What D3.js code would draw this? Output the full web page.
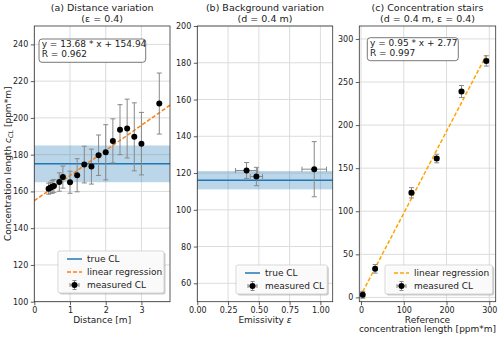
<!DOCTYPE html>
<html>
<head>
<meta charset="utf-8">
<title>CL measurements</title>
<style>
  body { margin: 0; padding: 0; background: #fff; }
  text { font-family: "DejaVu Sans", sans-serif; }
</style>
</head>
<body>
<svg width="500" height="339"></svg>
<script src="https://d3js.org/d3.v7.min.js"></script>
<script>

// (a) distance variation
var distX   = [0.4, 0.45, 0.5, 0.55, 0.7, 0.8, 1.0, 1.2, 1.4, 1.6, 1.8, 2.0, 2.2, 2.4, 2.6, 2.8, 3.0, 3.5]
var distY   = [161.5, 162, 162.5, 163, 165.1, 167.8, 165, 168.8, 174.6, 173.5, 179.7, 181.3, 187.5, 193.6, 194.2, 189.7, 186, 207.8]
var distErr = [3, 3, 3.5, 3.5, 5, 6, 6, 9, 10, 9.5, 11, 15, 12, 13.6, 16, 18.5, 17, 16.6]
var distTrue = 175, distTrueErr = 10
var distFit = [13.68, 154.94]

// (b) background variation
var emisX    = [0.4, 0.48, 0.95]
var emisXErr = [0.09, 0.05, 0.1]
var emisY    = [121.4, 118.1, 122.1]
var emisYErr = [4.3, 5, 15]
var emisTrue = 116.1, emisTrueErr = 5

// (c) concentration stairs
var refX    = [4, 33, 118, 177, 235, 293]
var refXErr = [4, 4, 5, 5, 5, 5]
var measY   = [3, 33.2, 121.4, 161.2, 238.9, 274.5]
var measErr = [4, 5, 6, 5, 7, 6]
var stairFit = [0.95, 2.77]

var blue = "#1f77b4"
var svg = d3.select("svg")

var panels = [
  {
    box: [34.3, 26, 170, 301.7], xdom: [0, 3.8], ydom: [100, 250],
    xticks: [0, 1, 2, 3], yticks: d3.range(100, 241, 20), xfmt: d3.format("d"),
    title: ["(a) Distance variation", "(\u03b5 = 0.4)"],
    xlabel: [["Distance [m]"]],
    x: distX, y: distY, yerr: distErr, xerr: null,
    trueCL: distTrue, trueErr: distTrueErr,
    fit: distFit, fitColor: "#ff7f0e", fitRange: "full",
    fitText: ["y = 13.68 * x + 154.94", "R = 0.962"], fitBox: [39, 39, 106.7, 23.3],
    legend: {x: 58, y: 251, w: 106, items: ["true", "fit", "meas"]}
  },
  {
    box: [197.3, 26, 332.7, 301.7], xdom: [0, 1.1], ydom: [50, 200],
    xticks: d3.range(0, 1.01, 0.25), yticks: d3.range(60, 201, 20), xfmt: d3.format(".2f"),
    title: ["(b) Background variation", "(d = 0.4 m)"],
    xlabel: [["Emissivity ", "\u03b5"]],
    x: emisX, y: emisY, yerr: emisYErr, xerr: emisXErr,
    trueCL: emisTrue, trueErr: emisTrueErr,
    legend: {x: 236, y: 265, w: 91.3, items: ["true", "meas"]}
  },
  {
    box: [359.3, 26, 495.7, 301.7], xdom: [-4, 315], ydom: [-5, 315],
    xticks: [0, 100, 200, 300], yticks: d3.range(0, 301, 50), xfmt: d3.format("d"),
    title: ["(c) Concentration stairs", "(d = 0.4 m, \u03b5 = 0.4)"],
    xlabel: [["Reference"], ["concentration length [ppm*m]"]],
    x: refX, y: measY, yerr: measErr, xerr: refXErr,
    fit: stairFit, fitColor: "#ffa500", fitRange: "data",
    fitText: ["y = 0.95 * x + 2.77", "R = 0.997"], fitBox: [367.3, 37.7, 91, 23],
    legend: {x: 385, y: 265, w: 107.7, items: ["fit", "meas"]}
  }
]

panels.forEach(drawPanel)

// y label of first panel
var yl = svg.append("text")
  .attr("transform", "translate(11," + (26 + 301.7) / 2 + ") rotate(-90)")
  .attr("text-anchor", "middle")
  .style("font-size", "9px").attr("fill", "#222")
yl.append("tspan").text("Concentration length ")
yl.append("tspan").text("c").style("font-style", "italic")
yl.append("tspan").text("CL").style("font-style", "italic").style("font-size", "6.5px").attr("dy", 2)
yl.append("tspan").text(" [ppm*m]").attr("dy", -2)

function drawPanel(p) {
  var x = d3.scaleLinear().domain(p.xdom).range([p.box[0], p.box[2]])
  var y = d3.scaleLinear().domain(p.ydom).range([p.box[3], p.box[1]])
  var g = svg.append("g")
  var cx = (p.box[0] + p.box[2]) / 2

  // grid
  g.selectAll("line.gx").data(p.xticks).enter().append("line")
    .attr("x1", d => x(d)).attr("x2", d => x(d))
    .attr("y1", p.box[1]).attr("y2", p.box[3])
    .attr("stroke", "#dcdcdc").attr("stroke-width", 1)
  g.selectAll("line.gy").data(p.yticks).enter().append("line")
    .attr("y1", d => y(d)).attr("y2", d => y(d))
    .attr("x1", p.box[0]).attr("x2", p.box[2])
    .attr("stroke", "#dcdcdc").attr("stroke-width", 1)

  // true CL band + line
  if (p.trueCL != null) {
    g.append("rect")
      .attr("x", p.box[0]).attr("width", p.box[2] - p.box[0])
      .attr("y", y(p.trueCL + p.trueErr))
      .attr("height", y(p.trueCL - p.trueErr) - y(p.trueCL + p.trueErr))
      .attr("fill", blue).attr("opacity", 0.3)
    g.append("line")
      .attr("x1", p.box[0]).attr("x2", p.box[2])
      .attr("y1", y(p.trueCL)).attr("y2", y(p.trueCL))
      .attr("stroke", blue).attr("stroke-width", 1.5)
  }

  // regression
  if (p.fit) {
    var xr = p.fitRange === "full" ? p.xdom : d3.extent(p.x)
    g.append("line")
      .attr("x1", x(xr[0])).attr("x2", x(xr[1]))
      .attr("y1", y(p.fit[0] * xr[0] + p.fit[1]))
      .attr("y2", y(p.fit[0] * xr[1] + p.fit[1]))
      .attr("stroke", p.fitColor).attr("stroke-width", 1.5)
      .attr("stroke-dasharray", "4,2")
  }

  // error bars
  var pts = p.x.map((v, i) => ({x: v, y: p.y[i], ye: p.yerr[i], xe: p.xerr ? p.xerr[i] : 0}))
  var eb = g.selectAll("g.eb").data(pts).enter().append("g")
    .attr("stroke", "#888").attr("stroke-width", 1)
  eb.append("line")
    .attr("x1", d => x(d.x)).attr("x2", d => x(d.x))
    .attr("y1", d => y(d.y - d.ye)).attr("y2", d => y(d.y + d.ye))
  eb.each(function(d) {
    var s = d3.select(this)
    ;[d.y - d.ye, d.y + d.ye].forEach(v => {
      s.append("line").attr("x1", x(d.x) - 2.5).attr("x2", x(d.x) + 2.5)
        .attr("y1", y(v)).attr("y2", y(v))
    })
    if (d.xe) {
      s.append("line").attr("x1", x(d.x - d.xe)).attr("x2", x(d.x + d.xe))
        .attr("y1", y(d.y)).attr("y2", y(d.y))
      ;[d.x - d.xe, d.x + d.xe].forEach(v => {
        s.append("line").attr("x1", x(v)).attr("x2", x(v))
          .attr("y1", y(d.y) - 2.5).attr("y2", y(d.y) + 2.5)
      })
    }
  })
  g.selectAll("circle.pt").data(pts).enter().append("circle")
    .attr("cx", d => x(d.x)).attr("cy", d => y(d.y)).attr("r", 3)
    .attr("fill", "#000")

  // spines
  g.append("rect")
    .attr("x", p.box[0]).attr("y", p.box[1])
    .attr("width", p.box[2] - p.box[0]).attr("height", p.box[3] - p.box[1])
    .attr("fill", "none").attr("stroke", "#333").attr("stroke-width", 0.8)

  // axes
  var xa = g.append("g").attr("transform", "translate(0," + p.box[3] + ")")
    .call(d3.axisBottom(x).tickValues(p.xticks).tickFormat(p.xfmt).tickSize(3.5).tickPadding(2.5))
  var ya = g.append("g").attr("transform", "translate(" + p.box[0] + ",0)")
    .call(d3.axisLeft(y).tickValues(p.yticks).tickFormat(d3.format("d")).tickSize(3.5).tickPadding(2.5))
  ;[xa, ya].forEach(a => {
    a.select(".domain").remove()
    a.selectAll("line").attr("stroke", "#333").attr("stroke-width", 0.8)
    a.selectAll("text").style("font-size", "8px").attr("fill", "#222")
      .style("font-family", "DejaVu Sans, sans-serif")
  })

  // title
  p.title.forEach((t, i) => {
    g.append("text").attr("x", cx).attr("y", 11 + i * 10.5)
      .attr("text-anchor", "middle").style("font-size", "9.5px").attr("fill", "#222").text(t)
  })

  // x label
  p.xlabel.forEach((parts, i) => {
    var t = g.append("text").attr("x", cx).attr("y", 322.5 + i * 9.5)
      .attr("text-anchor", "middle").style("font-size", "9px").attr("fill", "#222")
    t.append("tspan").text(parts[0])
    if (parts[1]) t.append("tspan").text(parts[1]).style("font-style", "italic")
  })

  // fit text box
  if (p.fitText) {
    g.append("rect")
      .attr("x", p.fitBox[0]).attr("y", p.fitBox[1])
      .attr("width", p.fitBox[2]).attr("height", p.fitBox[3])
      .attr("rx", 3).attr("fill", "#fff").attr("stroke", "#555").attr("stroke-width", 0.8)
    p.fitText.forEach((t, i) => {
      g.append("text").attr("x", p.fitBox[0] + 2.7).attr("y", p.fitBox[1] + 8.3 + i * 9.8)
        .style("font-size", "9px").attr("fill", "#222").text(t)
    })
  }

  // legend
  var L = p.legend
  var h = L.items.length * 13 + 3
  var lg = g.append("g").attr("transform", "translate(" + L.x + "," + L.y + ")")
  lg.append("rect").attr("x", 1.5).attr("y", 1.5).attr("width", L.w).attr("height", h)
    .attr("rx", 2).attr("fill", "#999").attr("opacity", 0.5)
  lg.append("rect").attr("width", L.w).attr("height", h)
    .attr("rx", 2).attr("fill", "#fff").attr("fill-opacity", 0.9)
    .attr("stroke", "#ccc").attr("stroke-width", 0.8)
  var names = {true: "true CL", fit: "linear regression", meas: "measured CL"}
  L.items.forEach((k, i) => {
    var cy = 8 + i * 13
    var row = lg.append("g")
    if (k === "true") {
      row.append("line").attr("x1", 9).attr("x2", 24).attr("y1", cy).attr("y2", cy)
        .attr("stroke", blue).attr("stroke-width", 1.5)
    } else if (k === "fit") {
      row.append("line").attr("x1", 9).attr("x2", 24).attr("y1", cy).attr("y2", cy)
        .attr("stroke", p.fitColor).attr("stroke-width", 1.5).attr("stroke-dasharray", "4,2")
    } else {
      var m = row.append("g").attr("stroke", "#888").attr("stroke-width", 1)
      m.append("line").attr("x1", 16.5).attr("x2", 16.5).attr("y1", cy - 4.5).attr("y2", cy + 4.5)
      m.append("line").attr("x1", 14.5).attr("x2", 18.5).attr("y1", cy - 4.5).attr("y2", cy - 4.5)
      m.append("line").attr("x1", 14.5).attr("x2", 18.5).attr("y1", cy + 4.5).attr("y2", cy + 4.5)
      m.append("line").attr("x1", 12).attr("x2", 21).attr("y1", cy).attr("y2", cy)
      m.append("line").attr("x1", 12).attr("x2", 12).attr("y1", cy - 2).attr("y2", cy + 2)
      m.append("line").attr("x1", 21).attr("x2", 21).attr("y1", cy - 2).attr("y2", cy + 2)
      row.append("circle").attr("cx", 16.5).attr("cy", cy).attr("r", 3).attr("fill", "#000")
    }
    row.append("text").attr("x", 29).attr("y", cy + 3.2)
      .style("font-size", "9px").attr("fill", "#222").text(names[k])
  })
}

</script>
</body>
</html>
